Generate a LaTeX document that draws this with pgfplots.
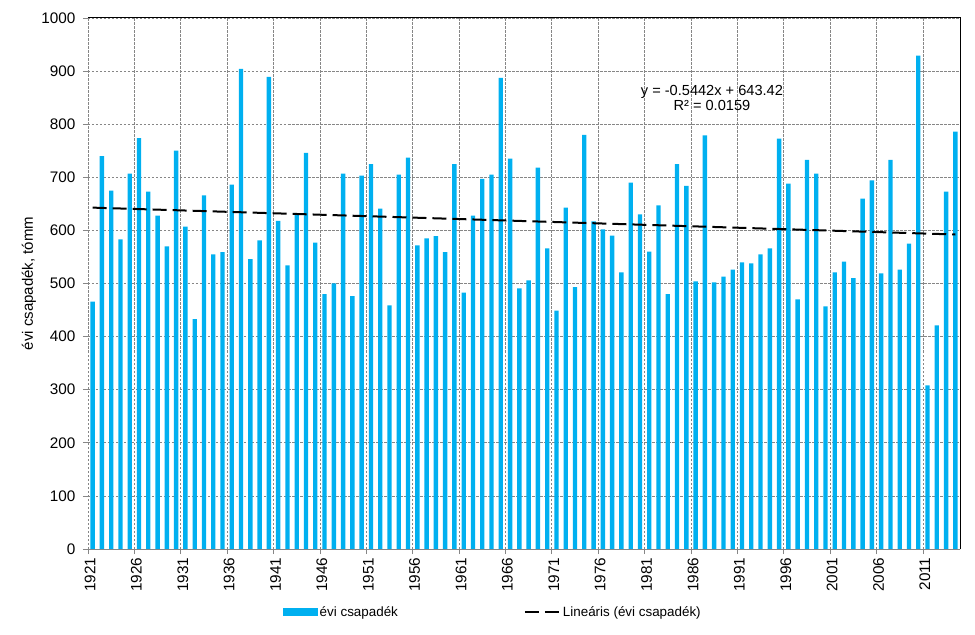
\documentclass[border=0pt]{standalone}
\usepackage{fontspec}
\setmainfont{Liberation Sans}
\usepackage{pgfplots}
\usepackage{pgfplotstable}
\pgfplotsset{compat=1.18}

\definecolor{barblue}{HTML}{00B0F0}
\definecolor{gridgray}{HTML}{868686}

% idx = year - 1920, mm = annual precipitation
\pgfplotstableread{
idx year mm
1  1921 466
2  1922 740
3  1923 675
4  1924 583
5  1925 707
6  1926 774
7  1927 673
8  1928 628
9  1929 570
10 1930 750
11 1931 607
12 1932 433
13 1933 666
14 1934 555
15 1935 559
16 1936 686
17 1937 904
18 1938 546
19 1939 581
20 1940 889
21 1941 618
22 1942 534
23 1943 631
24 1944 746
25 1945 577
26 1946 480
27 1947 500
28 1948 707
29 1949 476
30 1950 703
31 1951 725
32 1952 641
33 1953 459
34 1954 705
35 1955 737
36 1956 572
37 1957 585
38 1958 589
39 1959 559
40 1960 725
41 1961 483
42 1962 628
43 1963 697
44 1964 705
45 1965 887
46 1966 735
47 1967 491
48 1968 506
49 1969 718
50 1970 566
51 1971 449
52 1972 643
53 1973 493
54 1974 780
55 1975 617
56 1976 602
57 1977 590
58 1978 521
59 1979 690
60 1980 630
61 1981 560
62 1982 647
63 1983 480
64 1984 725
65 1985 684
66 1986 504
67 1987 779
68 1988 502
69 1989 513
70 1990 526
71 1991 540
72 1992 538
73 1993 555
74 1994 566
75 1995 773
76 1996 688
77 1997 470
78 1998 733
79 1999 707
80 2000 457
81 2001 521
82 2002 541
83 2003 510
84 2004 660
85 2005 694
86 2006 519
87 2007 733
88 2008 526
89 2009 575
90 2010 929
91 2011 308
92 2012 421
93 2013 673
94 2014 786
}\precip

\begin{document}
\begin{tikzpicture}
\useasboundingbox (-88bp,-86bp) rectangle (887bp,549bp);
\begin{axis}[
    at={(0,0)}, anchor=south west,
    scale only axis,
    width=872bp, height=531bp,
    xmin=0.5, xmax=94.5,
    ymin=0, ymax=1000,
    xtick={0.5,5.5,...,90.5},
    xticklabels={1921,1926,1931,1936,1941,1946,1951,1956,1961,1966,1971,1976,1981,1986,1991,1996,2001,2006,2011},
    ytick={0,100,...,1000},
    /pgf/number format/assume math mode=true,
    /pgf/number format/1000 sep={},
    tick label style={font=\fontsize{15.3bp}{17bp}\selectfont},
    xticklabel style={rotate=90, anchor=east, yshift=-2bp},
    yticklabel style={xshift=-4bp},
    tick align=outside,
    major tick length=5bp,
    tick style={gridgray, line width=0.8bp},
    xtick pos=bottom, ytick pos=left,
    grid=major,
    major grid style={gridgray, line width=0.8bp, dash pattern=on 2.5bp off 1.5bp},
    axis line style={draw=none},
    ylabel={évi csapadék, tómm},
    every axis y label/.style={at={(axis description cs:-0.0677,0.5)}, rotate=90,
        anchor=center, font=\fontsize{15bp}{17bp}\selectfont},
    legend columns=2,
    legend style={draw=none, fill=none, inner sep=0pt, outer sep=0pt,
        at={(0.2233,-0.1186)}, anchor=west,
        font=\fontsize{13.4bp}{15bp}\selectfont,
        nodes={inner sep=2bp},
        /tikz/every even column/.append style={column sep=124bp}},
    clip=false,
]

% annual precipitation bars
\addplot[ybar, bar width=0.47, fill=barblue, draw=none,
    legend image code/.code={\fill[barblue] (0bp,-4bp) rectangle (35bp,4bp);}]
    table[x=idx, y=mm] {\precip};
\addlegendentry{évi csapadék}

% linear trend y = -0.5442x + 643.42
\addplot[black, line width=2bp, dash pattern=on 14bp off 6bp, sharp plot,
    legend image code/.code={\draw[black, line width=2bp, dash pattern=on 14bp off 6bp] (0bp,0bp) -- (35bp,0bp);}]
    coordinates {(1,642.88) (94,592.27)};
\addlegendentry{Lineáris (évi csapadék)}

\node[align=center, font=\fontsize{14.6bp}{14.5bp}\selectfont]
    at (axis cs:67.76,849) {y = -0.5442x + 643.42\\R² = 0.0159};

% frame: black top and right, gray bottom
\draw[black, line width=1bp] (rel axis cs:0,1) -- (rel axis cs:1,1) -- (rel axis cs:1,0);
\draw[gridgray, line width=1bp] (rel axis cs:0,0) -- (rel axis cs:1,0);
\end{axis}
\end{tikzpicture}
\end{document}
